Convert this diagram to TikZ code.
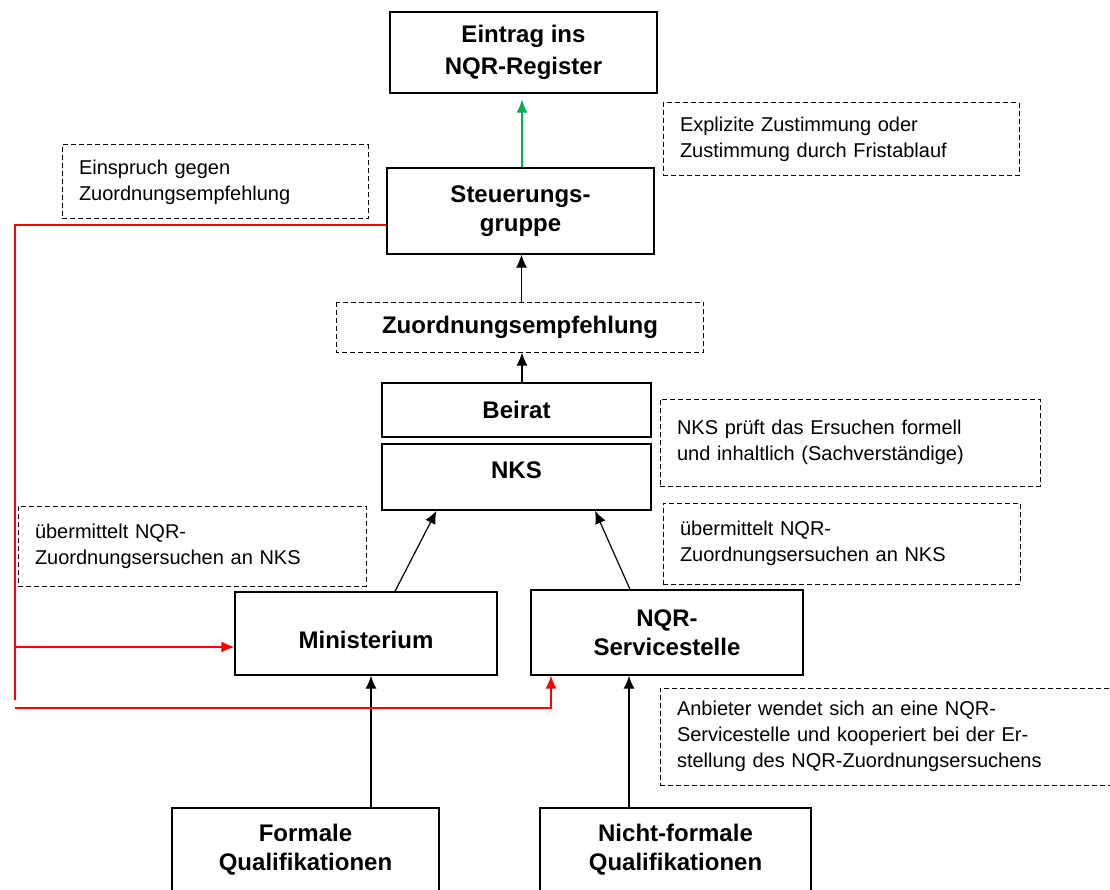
\documentclass[tikz,border=0pt]{standalone}
\usepackage{fontspec}
\setmainfont{Liberation Sans}
\usepackage{xcolor}
\usepackage{tikz}
\usetikzlibrary{arrows.meta}

\definecolor{okgreen}{RGB}{0,176,80}
\definecolor{nogored}{RGB}{255,0,0}

\begin{document}
\begin{tikzpicture}[x=1pt, y=-1pt,
    box/.style={draw, line width=1.3pt, inner sep=0pt, align=center,
        font=\bfseries\fontsize{24}{29}\selectfont},
    note/.style={draw, line width=1pt, dash pattern=on 5pt off 3pt, inner xsep=17pt,
        inner ysep=0pt, align=left, font=\fontsize{20}{26}\selectfont},
    flow/.style={line width=1.2pt, -{Latex[length=13pt, width=11pt]}},
    veto/.style={flow, nogored}]
    \useasboundingbox (0, 0) rectangle (1110, 890);

    \node[box, minimum width=267, minimum height=81] at (523.5, 52.5) (eintrag) {Eintrag ins\\[3pt]NQR-Register};
    \node[box, minimum width=267, minimum height=86] at (520.5, 211) (steuer) {Steuerungs-\\gruppe};
    \node[box, draw=none, minimum width=366, minimum height=49] at (520, 327.5) (empf) {Zuordnungsempfehlung};
    \draw[line width=1pt, dash pattern=on 5pt off 3pt] (empf.north west) rectangle (empf.south east);
    \node[box, minimum width=269, minimum height=54] at (516.5, 410) (beirat) {Beirat};
    \node[box, minimum width=269, minimum height=66, text depth=14pt] at (516.5, 477) (nks) {NKS};
    \node[box, minimum width=262, minimum height=83, text height=31pt] at (366, 633.5) (mini) {Ministerium};
    \node[box, minimum width=272, minimum height=85] at (667, 632.5) (serv) {NQR-\\Servicestelle};
    \node[box, minimum width=267, minimum height=84] at (305.5, 850) (formal) {Formale\\Qualifikationen};
    \node[box, minimum width=271, minimum height=84] at (675.5, 850) (nonformal) {Nicht-formale\\Qualifikationen};

    \node[note, text width=272, minimum height=74] at (215, 182) (einspruch) {Einspruch gegen\\Zuordnungsempfehlung};
    \node[note, text width=322, minimum height=73] at (841, 139.5) (zustimmung) {Explizite Zustimmung oder\\Zustimmung durch Fristablauf};
    \node[note, text width=346, minimum height=87] at (850, 442.5) (pruefung) {NKS prüft das Ersuchen formell\\und inhaltlich (Sachverständige)};
    \node[note, text width=314, minimum height=80] at (192, 546) (uebmini) {übermittelt NQR-\\Zuordnungsersuchen an NKS};
    \node[note, text width=323, minimum height=81] at (841.5, 543.5) (uebserv) {übermittelt NQR-\\Zuordnungsersuchen an NKS};
    \node[note, text width=426, minimum height=97] at (890, 736.5) (anbieter) {Anbieter wendet sich an eine NQR-\\Servicestelle und kooperiert bei der Er-\\stellung des NQR-Zuordnungsersuchens};

    \draw[flow, okgreen, shorten >=6pt] ([xshift=1.5pt]steuer.north) -- ([xshift=1.5pt]steuer.north |- eintrag.south);
    \draw[flow] ([xshift=1.5pt]empf.north) -- ([xshift=1.5pt]empf.north |- steuer.south);
    \draw[flow] ([xshift=5.5pt]beirat.north) -- ([xshift=5.5pt]beirat.north |- empf.south);
    \draw[flow] ([xshift=29pt]mini.north) -- ([xshift=-80pt]nks.south);
    \draw[flow] ([xshift=-37pt]serv.north) -- ([xshift=78.5pt]nks.south);
    \draw[flow] ([xshift=65.5pt]formal.north) -- ([xshift=5pt]mini.south);
    \draw[flow] ([xshift=-46.5pt]nonformal.north) -- ([xshift=-38pt]serv.south);

    \coordinate (vetoend) at (15, 700);
    \coordinate (vetomini) at (15, 647);
    \coordinate (vetoserv) at (15, 708);
    \draw[line width=1.2pt, nogored] ([yshift=-14pt]steuer.west) -| (vetoend);
    \draw[veto] (vetomini) -- (vetomini -| mini.west);
    \draw[veto] (vetoserv) -| ([xshift=-116pt]serv.south);
\end{tikzpicture}
\end{document}
